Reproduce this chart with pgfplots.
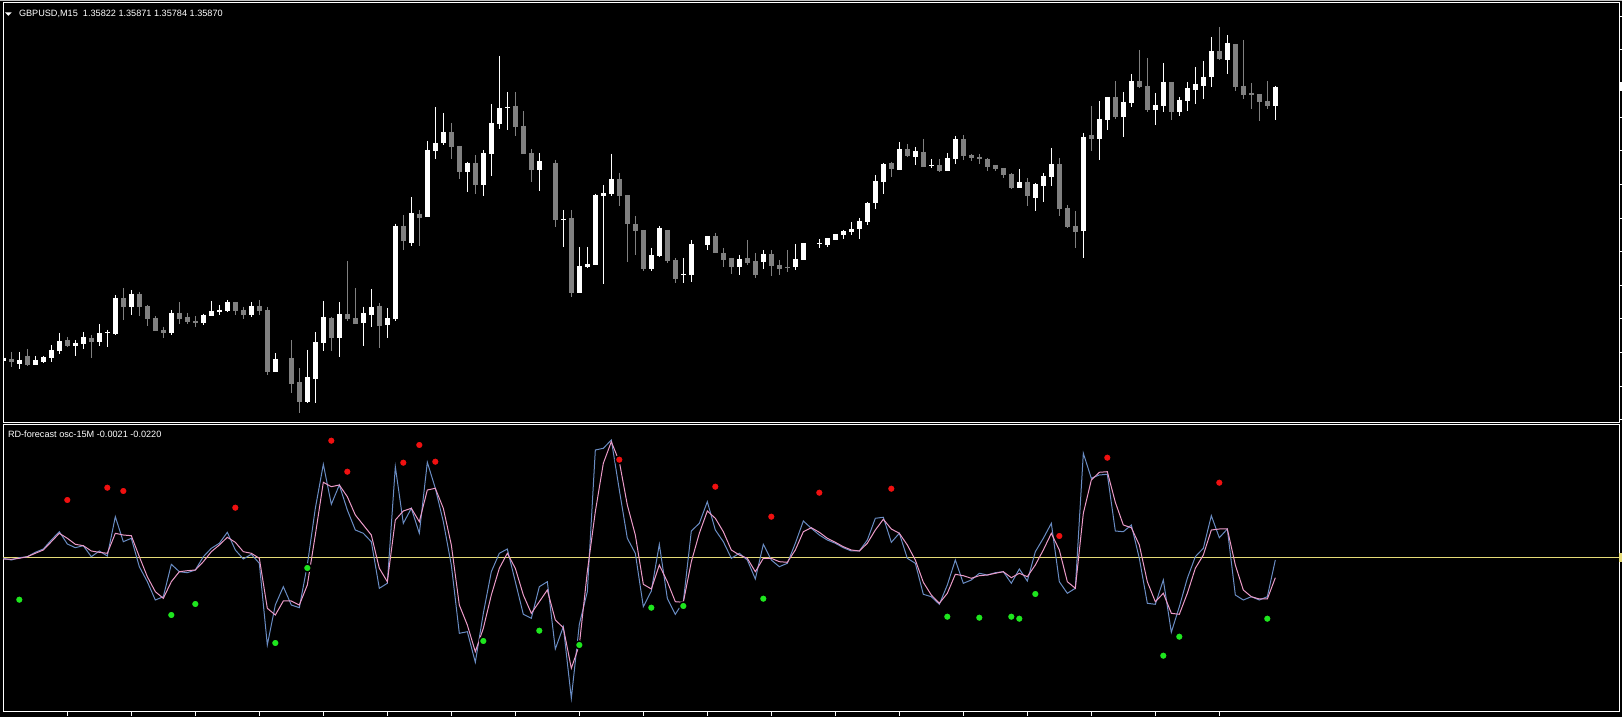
\documentclass[border=0pt]{standalone}
\usepackage{fontspec}
\setmainfont{Liberation Sans}
\usepackage{pgfplots}
\pgfplotsset{compat=1.18}
\usepackage{pgfplotstable}

\definecolor{bear}{RGB}{128,128,128}
\definecolor{oscblue}{RGB}{105,140,195}
\definecolor{oscpink}{RGB}{235,155,200}
\definecolor{zeroyel}{RGB}{230,220,120}
\definecolor{dotred}{RGB}{240,16,16}
\definecolor{dotgreen}{RGB}{30,230,30}

% GBPUSD M15 candles (pixel rows, top = small)
% k = bar index, h/l = wick top/bottom, bt/bb = body top/bottom, w = 1 white (up) / 0 grey (down)
\pgfplotstableread{
k h l bt bb w
0 347.3 370 357.7 360.7 1
1 352 366.7 359 361.7 0
2 352 368.7 360 364 1
3 349 366 356 365 0
4 356 364.7 360 364.7 1
5 356 362.7 357 362 1
6 345 361.7 350 358 1
7 333 354 341 350.7 1
8 337 346.7 340 346 0
9 340 356 342.7 346 1
10 332 348.7 337 344 1
11 335 358 338 342 0
12 324 346 333 342 1
13 329.7 347 332 333 1
14 295 335 298 334 1
15 288 320 298 306.7 0
16 290 315 293.7 306.7 1
17 292 316 293.7 306.7 0
18 304.7 325.7 306 318.7 0
19 316 330.7 318 330.7 0
20 326.7 338 329.7 333 0
21 310 335 312.7 333 1
22 302 324 312.7 319 0
23 313 324 316.7 322 0
24 316 327 321 322.7 0
25 313.7 324.7 314.7 323 1
26 301 316 310.7 316 1
27 305 315 310 312 1
28 300 312 302 311.3 1
29 302 315 302 310.7 0
30 307 319 309.7 315 0
31 302 317 305.7 315 1
32 300 315 306 311 0
33 307 375 310 372 0
34 353.3 372 359 372 1
36 340 393.3 358 383.7 0
37 368.3 413.3 382.3 401.7 0
38 350 403.3 377.3 402.3 1
39 332.3 403.3 342.3 379 1
40 301 350.7 317 342.7 1
41 316.7 350.7 317.7 337.7 0
42 302.3 356.7 314 337.7 1
43 261 320.7 314 318.7 0
44 288 323.7 318.3 323.7 0
45 306.7 345.7 313.3 322.7 1
46 289 326.7 307 314.7 1
47 303 347.7 306 325.7 0
48 308 337.7 318 324.7 1
49 223.7 320.7 226 318.7 1
50 215.3 249.7 226 240.7 0
51 197 245.7 213 242.7 1
52 210 245.7 213.7 217.7 0
53 141 216.7 150 216.7 1
54 107 158.7 143 150.7 1
55 113 144.7 132 142.7 1
56 123 158.7 132 146.7 0
57 146 178.7 146 171.7 0
58 161.7 191.7 162.7 171.7 1
59 155 193.7 163 184.7 0
60 150 195.7 153 184.7 1
61 104 175.7 123 153.7 1
62 56 128.7 108 123.7 1
63 92 129.7 107.2 108.2 1
64 92 135.7 106 126.7 0
65 111 153.7 126 153.7 0
66 149 181.7 153 169.7 0
67 153 190.7 161 169.7 1
69 160 226.7 163 220 0
70 210 246.7 218.8 219.8 1
71 210 297.3 218 292.7 0
72 247 292.7 266 292.7 1
73 247 268 264 267 1
74 193.7 265 194.7 265 1
75 185 284 193 195.7 1
76 153.7 196 179 194 1
77 172.7 206 179 196 0
78 195 262 195 224 0
79 216 255 224 231 0
80 230 271 230 269 0
81 248 271 255 269 1
82 226 257 228 256 1
83 230 263 230 261 0
84 258 283 260 279 0
85 258 283 274.2 275.2 1
86 240 282 244 275 1
88 236 250 236 245 1
89 233 253 236 253 0
90 248 267 253 260 0
91 258 274 258 267 0
92 255 275 259 267 1
93 240 265 258 263 0
94 253 278 261 275 0
95 250 269 254 262 1
96 250 276 254 266 0
97 260 275 265 269 0
98 250 272 267 268.3 0
99 244 270 259 267 1
100 243 260 243 260 1
102 239 248 243.2 244.2 1
103 238 247 238 245 1
104 234 240 234 240 1
105 230 239 231 235 1
106 222 235 229 232 1
107 218 239 221 229 1
108 202 225 203 222 1
109 175 209 181 203 1
110 163 194 164 182 1
111 162 177 163 169 0
112 142 170 149 170 1
113 144 157 149 156 0
114 147 165 151 157 1
115 139 167 152 167 0
116 159 167.7 165.2 166.2 1
117 159 172 165 171 0
118 153 171 158 171 1
119 136 164 139 159 1
120 135 160 139 156 0
121 154 161 155 158 0
122 154 164 157 159 0
123 158 171 159 167 0
124 165 171 165 169 0
125 168 178 168 175 0
126 173 189 174 188 0
127 169 188 182 188 1
128 178 206 182 196 0
129 183 211 184 198 1
130 173 202 176 186 1
131 148 186 164 177 1
132 158 216 164 209 0
133 205 228 208 227 0
134 211 248 226 232 0
135 133 258 137 231 1
136 106 151 135 139 0
137 101 160 119 139 1
138 97 130 97 120 1
139 81 119 97 117 0
140 92 137 102 117 1
141 74 107 81 103 1
142 50 88 81 87 0
143 58 112 86 110 0
144 93 125 105 110 1
145 63 112 82 106 1
146 82 120 82 112 0
147 97 116 100 112 1
148 82 111 88 101 1
149 67 104 84 90 1
150 61 99 77 86 1
151 37 87 51 77 1
152 27 60 51 59 0
153 35 74 43 60 1
154 44 91 44 87 0
155 40 99 86 95 0
156 83 109 93 95 0
157 94 121 94 102 0
158 81 109 101 106 0
159 86 120 87 106 1
}\candles

% RD-forecast oscillator: b = blue line, p = pink line
\pgfplotstableread{
k b p
0 558.3 559
1 560 559.3
2 557.7 558.3
3 556.7 556.7
4 552.3 553.3
5 549 550
6 540 541.7
7 531.7 533.3
8 544 538.3
9 547.7 544.3
10 545.7 545.7
11 556.7 551
12 551 552.3
13 556 553.3
14 516.7 533.3
15 541.7 535
16 538.3 535.7
17 566.7 556.7
18 581.7 576.7
19 600 591.7
20 596.7 598.3
21 564.3 581.7
22 571.7 571.7
23 572.7 570.7
24 570 570
25 556.7 561.7
26 548.3 551.7
27 543.3 545
28 532.3 537.3
29 550 542.3
30 559 551.7
31 554.3 553.3
32 563.3 558.3
33 645 608.3
34 605 615
35 586.7 601
36 605 601
37 607.7 605
38 565 585
39 508.3 535
40 464.3 482.3
41 504.3 486.7
42 485 485
43 510 496.7
44 530 515
45 533.3 525
46 541.7 535
47 588.3 568.3
48 583.3 581.7
49 466.7 520
50 523.3 511
51 508.3 508.3
52 533.3 521.7
53 462.3 490
54 488.3 488.3
55 521.7 508.3
56 565 545
57 633.3 605
58 631.7 625
59 662.3 651.7
60 613.3 628.3
61 571.7 595
62 553.3 568.3
63 549 553.3
64 581.7 568.3
65 614.3 595
66 618.3 613.3
67 586.7 601.7
68 581.7 590
69 649 620
70 626.7 627.7
71 698.3 668.3
72 624.3 645
73 591.7 571.7
74 450 511.7
75 448.3 463.3
76 440 441.7
77 490 461.7
78 538.3 505
79 553.3 535
80 606.7 584.3
81 591 589
82 544.3 565
83 598.3 581.7
84 614.3 601.7
85 601.7 602.3
86 531 561.7
87 523.3 533.3
88 501.7 511
89 530 518.3
90 541.7 531.7
91 558.3 550
92 553.3 555
93 560 558.3
94 579 571.7
95 544.3 558.3
96 560 558.3
97 566.7 561.7
98 563.3 562.3
99 543.3 550
100 521 531.7
101 528.3 527.7
102 535 532.3
103 540 538.3
104 543.3 542.3
105 547.7 546.7
106 551 550
107 551 551
108 540 543.3
109 518.3 530
110 517.3 519.3
111 542.3 529
112 533.3 533.3
113 558.3 545
114 563.3 560
115 594.3 582.3
116 596.7 595
117 604.3 603.3
118 585 593.3
119 560 574.3
120 583.3 575.7
121 580 578.3
122 573.3 575.7
123 575 575
124 572.7 573.3
125 571.7 571.7
126 583.3 577.7
127 569 573.3
128 581 576.7
129 551.7 565
130 538.3 550
131 523.3 533.3
132 581.7 550
133 593.3 581.7
134 588.3 588.3
135 453.3 513.3
136 478.3 480
137 475 472.3
138 474.3 471.7
139 531 502.3
140 531.7 525
141 525 527.7
142 558.3 545
143 603.3 581.7
144 604.3 601.7
145 580 593.3
146 632.3 613.3
147 606.7 614.3
148 578.3 593.3
149 556.7 568.3
150 548.3 555
151 515.7 530
152 537.7 529
153 529 529
154 595 565
155 600 590
156 596.7 596.7
157 600 599
158 596.7 599
159 560 577.7
}\osc

\pgfplotsset{
  mtpanel/.style={
    scale only axis, width=161.6mm, anchor=north west,
    xmin=-0.04, xmax=201.96, y dir=reverse,
    axis background/.style={fill=black},
    axis line style={white, line width=0.1mm},
    tick style={white, line width=0.1mm},
    tick align=outside, major tick length=0.3mm,
    xticklabels={}, yticklabels={},
  },
  % candle parts drawn as vertical error bars; the other colour gets length 0
  candlepart/.style n args={2}{draw=none, mark=none, forget plot,
    error bars/.cd, y dir=plus, y explicit, error mark=none,
    error bar style={draw=#1, fill=none, line width=#2, line cap=butt}, /pgfplots/.cd},
}

\begin{document}
\begin{tikzpicture}
\fill[black] (0,0) rectangle (162.2mm,-71.7mm);
\fill[black!25] (0,0) rectangle (162.2mm,-0.12mm);

% price panel
\begin{axis}[mtpanel, at={(0.3mm,-0.3mm)}, height=41.9mm,
  ymin=3, ymax=422,
  xtick=\empty,
  ytick={16.3,49.93,...,421}, ytick pos=right,
  extra y ticks={87}, extra y tick labels={},
  extra y tick style={tick style={white, line width=0.9mm}},
]
  \addplot[candlepart={bear}{0.1mm}]
    table[x=k, y=h, y error expr=(\thisrow{l}-\thisrow{h})*(1-\thisrow{w})] {\candles};
  \addplot[candlepart={bear}{0.5mm}]
    table[x=k, y=bt, y error expr=(\thisrow{bb}-\thisrow{bt})*(1-\thisrow{w})] {\candles};
  \addplot[candlepart={white}{0.1mm}]
    table[x=k, y=h, y error expr=(\thisrow{l}-\thisrow{h})*\thisrow{w}] {\candles};
  \addplot[candlepart={white}{0.5mm}]
    table[x=k, y=bt, y error expr=(\thisrow{bb}-\thisrow{bt})*\thisrow{w}] {\candles};
\end{axis}

% oscillator panel
\begin{axis}[mtpanel, at={(0.3mm,-42.5mm)}, height=28.67mm,
  ymin=425, ymax=711.7,
  xtick={8,16,...,152}, xtick pos=left, major tick length=0.4mm,
  ytick=\empty, ytick pos=right,
  extra y ticks={557.3}, extra y tick labels={},
  extra y tick style={tick style={zeroyel, line width=0.9mm}, major tick length=0.3mm},
]
  \addplot[zeroyel, line width=0.1mm] coordinates {(-1,557.3) (203,557.3)};
  \addplot[oscblue, line width=0.1mm] table[x=k, y=b] {\osc};
  \addplot[oscpink, line width=0.1mm] table[x=k, y=p] {\osc};
  \addplot[only marks, mark=*, mark size=0.4mm, mark options={draw=none, fill=dotred}]
    coordinates {(8,500) (13,487.7) (15,491) (29,507.7) (41,440.7) (43,471.7)
      (50,462.7) (52,445) (54,461.7) (77,459.7) (89,486.7) (96,516.7)
      (102,492.7) (111,488.7) (132,536) (138,457.7) (152,482.7)};
  \addplot[only marks, mark=*, mark size=0.4mm, mark options={draw=none, fill=dotgreen}]
    coordinates {(2,599.7) (21,615) (24,604) (34,643) (38,568) (60,641)
      (67,630.7) (72,645) (81,607.7) (85,606) (95,598.7) (118,616.7)
      (122,617.7) (126,616.7) (127,618.7) (129,594) (145,655.7)
      (147,636.7) (158,618.7)};
\end{axis}

\fill[white] (0.5mm,-1.25mm) -- (1.17mm,-1.25mm) -- (0.835mm,-1.58mm) -- cycle;
\node[anchor=base west, inner sep=0, text=white, font=\fontsize{2.6}{3}\selectfont]
  at (1.83mm,-1.67mm) {GBPUSD,M15~~1.35822 1.35871 1.35784 1.35870};
\node[anchor=base west, inner sep=0, text=white, font=\fontsize{2.6}{3}\selectfont]
  at (0.73mm,-43.77mm) {RD-forecast osc-15M -0.0021 -0.0220};

\pgfresetboundingbox
\path[use as bounding box] (0,0) rectangle (162.2mm,-71.7mm);
\end{tikzpicture}
\end{document}
